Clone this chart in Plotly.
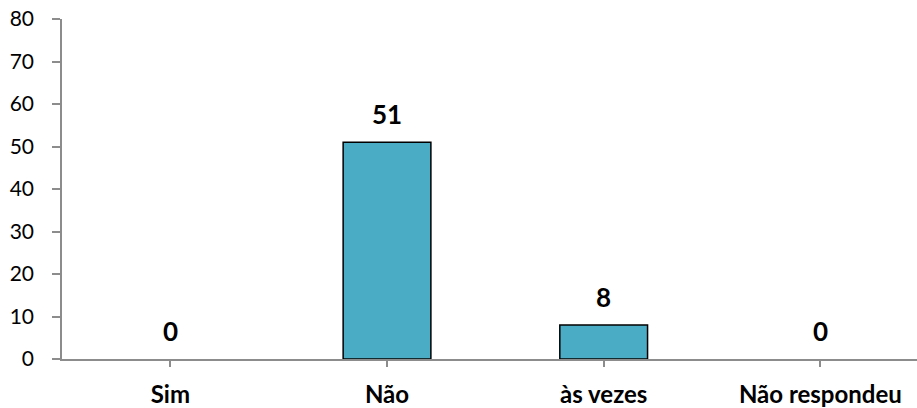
import plotly.graph_objects as go

categories = ["Sim", "Não", "às vezes", "Não respondeu"]
values = [0, 51, 8, 0]
y_ticks = [0, 10, 20, 30, 40, 50, 60, 70, 80]

font_family = "Lato, Open Sans, sans-serif"

fig = go.Figure()
fig.add_trace(go.Bar(
    x=list(range(len(categories))),
    y=values,
    width=0.405,
    marker=dict(
        color="#4BACC6",
        # zero-height bars get no outline
        line=dict(color="black", width=[0 if v == 0 else 1.5 for v in values]),
    ),
    hoverinfo="skip",
))

# data labels above the bars
for i, v in enumerate(values):
    fig.add_annotation(
        x=i, y=v, text=f"<b>{v}</b>", showarrow=False,
        yanchor="middle", yshift=28,
        font=dict(family=font_family, size=26, color="black"),
    )

fig.update_layout(
    width=917,
    height=408,
    margin=dict(l=62, r=0, t=19, b=49),
    paper_bgcolor="white",
    plot_bgcolor="white",
    showlegend=False,
    font=dict(family=font_family, color="black"),
    xaxis=dict(
        range=[-0.5, 3.446],
        tickmode="array",
        tickvals=list(range(len(categories))),
        ticktext=[f"<b>{c}</b>" for c in categories],
        tickson="boundaries",
        ticks="outside",
        ticklen=6,
        tickcolor="#8c8c8c",
        tickwidth=1.5,
        showline=True,
        linecolor="#8c8c8c",
        linewidth=1.5,
        showgrid=False,
        zeroline=False,
        automargin=False,
        ticklabelstandoff=7,
        tickfont=dict(size=24),
    ),
    yaxis=dict(
        range=[0, 80],
        tickvals=y_ticks,
        ticks="outside",
        ticklen=8,
        tickcolor="#8c8c8c",
        tickwidth=1.5,
        showline=True,
        linecolor="#8c8c8c",
        linewidth=1.5,
        showgrid=False,
        zeroline=False,
        automargin=False,
        ticklabelstandoff=14,
        ticklabeloverflow="allow",
        tickfont=dict(size=21),
    ),
)

# drop the default 8px body margin so the figure fills the window
fig.write_html(
    "out.html",
    config={"displayModeBar": False},
    post_script="document.body.style.margin='0';",
)
